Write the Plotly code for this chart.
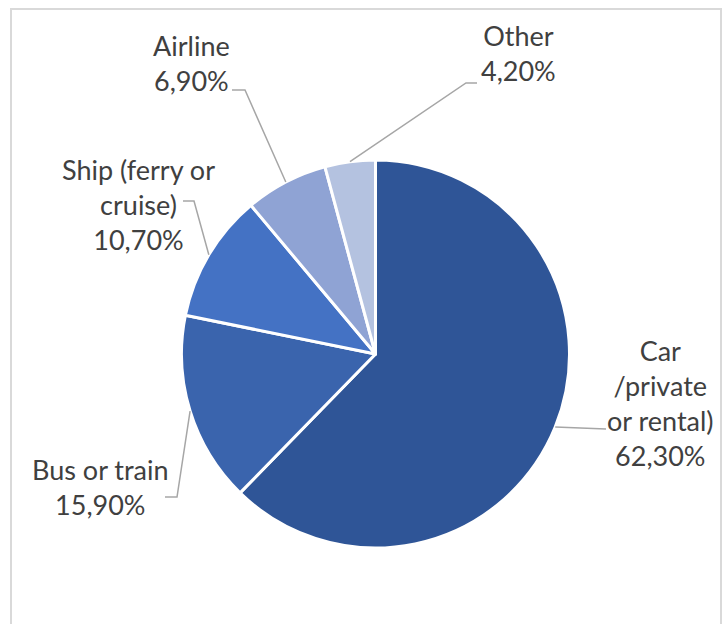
import math
import plotly.graph_objects as go

# Transport mode shares (%)
categories = ["Car /private or rental)", "Bus or train", "Ship (ferry or cruise)", "Airline", "Other"]
shares = [62.3, 15.9, 10.7, 6.9, 4.2]
label_text = [
    "Car<br>/private<br>or rental)<br>62,30%",
    "Bus or train<br>15,90%",
    "Ship (ferry or<br>cruise)<br>10,70%",
    "Airline<br>6,90%",
    "Other<br>4,20%",
]
slice_colors = ["#2F5597", "#3A64AD", "#4472C4", "#8FA3D4", "#B4C2E0"]

# Canvas and pie geometry (pixels)
W, H = 727, 624
CX, CY, R = 375.5, 354.0, 194.0

# Label block centres and leader elbow points (pixels)
label_pos = [(660, 403), (100, 487), (138, 205), (192, 63), (518, 53)]
leader_elbows = [
    [(606, 429)],
    [(165, 497), (177, 497)],
    [(183, 201), (194, 201)],
    [(232, 90), (245, 90)],
    [(477, 83), (466, 83)],
]


def px(x):
    return x / W


def py(y):
    return 1 - y / H


fig = go.Figure()
fig.add_trace(go.Pie(
    labels=categories,
    values=shares,
    sort=False,
    direction="clockwise",
    rotation=0,
    textinfo="none",
    hoverinfo="label+percent",
    marker=dict(colors=slice_colors, line=dict(color="white", width=3)),
    domain=dict(x=[px(CX - R), px(CX + R)], y=[py(CY + R), py(CY - R)]),
    showlegend=False,
))

shapes = [
    dict(type="rect", xref="paper", yref="paper",
         x0=px(11), x1=px(721), y0=py(9), y1=-0.05,
         line=dict(color="#D9D9D9", width=2), fillcolor="rgba(0,0,0,0)", layer="below"),
]
annotations = []

total = sum(shares)
cum = 0.0
for i, v in enumerate(shares):
    theta = 2 * math.pi * (cum + v / 2) / total
    cum += v
    ex = CX + R * math.sin(theta)
    ey = CY - R * math.cos(theta)
    pts = leader_elbows[i] + [(ex, ey)]
    path = "M " + " L ".join(f"{px(x):.5f},{py(y):.5f}" for x, y in pts)
    shapes.append(dict(type="path", xref="paper", yref="paper", path=path,
                       line=dict(color="#A6A6A6", width=1.5)))
    lx, ly = label_pos[i]
    annotations.append(dict(
        x=px(lx), y=py(ly), xref="paper", yref="paper",
        text=label_text[i], showarrow=False, align="center",
        xanchor="center", yanchor="middle",
        font=dict(family="Lato", size=27, color="#404040"),
    ))

fig.update_layout(
    width=W, height=H,
    margin=dict(l=0, r=0, t=0, b=0),
    paper_bgcolor="white",
    plot_bgcolor="white",
    shapes=shapes,
    annotations=annotations,
)

fig.write_html("out.html")
